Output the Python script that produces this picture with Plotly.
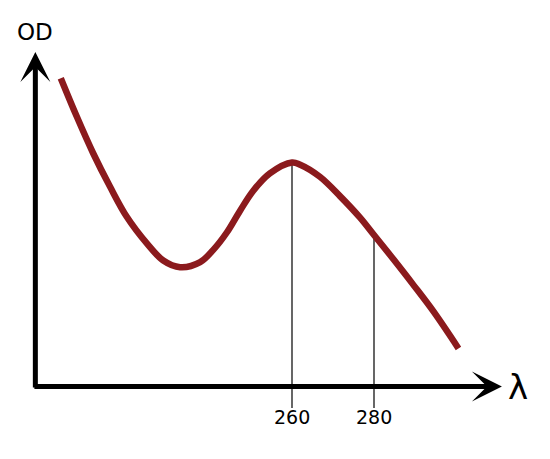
import plotly.graph_objects as go

# Absorbance curve (wavelength in nm, optical density in arbitrary units)
wavelength = [203.6, 207.5, 211.5, 215.6, 219.7, 224.6, 228.6, 232.7, 237.6,
              240.8, 244.1, 247.3, 250.6, 254.6, 260.0, 262.0, 266.8, 271.7,
              276.6, 280.0, 284.7, 289.6, 294.5, 300.6]
od = [1.101, 0.964, 0.833, 0.714, 0.606, 0.511, 0.450, 0.426, 0.444,
      0.488, 0.550, 0.627, 0.700, 0.761, 0.800, 0.792, 0.749, 0.680,
      0.603, 0.541, 0.455, 0.363, 0.268, 0.136]

marker_wavelengths = [260, 280]
marker_od = [0.800, 0.541]
marker_labels = ["260", "280"]

fig = go.Figure()

# vertical marker lines
for wl, top in zip(marker_wavelengths, marker_od):
    fig.add_trace(go.Scatter(x=[wl, wl], y=[-0.077, top], mode="lines",
                             line=dict(color="black", width=1.2),
                             hoverinfo="skip", showlegend=False))

fig.add_trace(go.Scatter(x=wavelength, y=od, mode="lines",
                         line=dict(color="#8b1a1d", width=6.5, shape="spline", smoothing=1.0),
                         showlegend=False))

annotations = []
for wl, lab in zip(marker_wavelengths, marker_labels):
    annotations.append(dict(x=wl, y=-0.109, text=lab, showarrow=False,
                            font=dict(family="DejaVu Sans", size=19, color="black"),
                            xref="x", yref="y"))

# axis arrows
annotations.append(dict(x=311.2, y=0.0, ax=196.8, ay=0.0, xref="x", yref="y",
                        axref="x", ayref="y", text="", showarrow=True,
                        arrowhead=3, arrowsize=1, arrowwidth=5, arrowcolor="black"))
annotations.append(dict(x=197.4, y=1.195, ax=197.4, ay=-0.009, xref="x", yref="y",
                        axref="x", ayref="y", text="", showarrow=True,
                        arrowhead=3, arrowsize=1, arrowwidth=5, arrowcolor="black"))
annotations.append(dict(x=197.3, y=1.266, text="OD", showarrow=False, xref="x", yref="y",
                        font=dict(family="DejaVu Sans", size=23, color="black")))
annotations.append(dict(x=315.1, y=0.0, text="λ", showarrow=False, xref="x", yref="y",
                        font=dict(family="DejaVu Sans", size=34, color="black")))

fig.update_layout(
    width=550, height=459,
    margin=dict(l=0, r=0, t=0, b=0),
    paper_bgcolor="white", plot_bgcolor="white",
    xaxis=dict(range=[190.73, 324.88], visible=False, fixedrange=True),
    yaxis=dict(range=[-0.2875, 1.3518], visible=False, fixedrange=True),
    annotations=annotations,
    showlegend=False,
)

fig.write_html("out.html")
